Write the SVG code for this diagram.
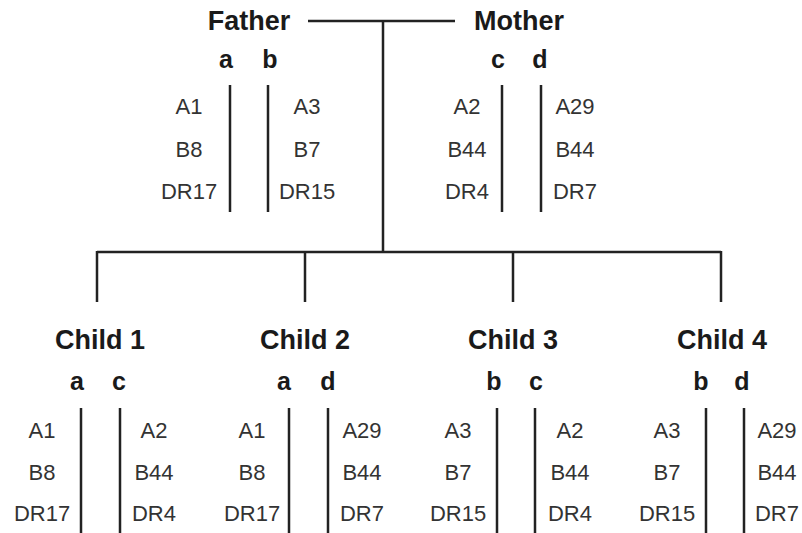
<svg xmlns="http://www.w3.org/2000/svg" width="802" height="533" viewBox="0 0 802 533">
<style>
.t{font-family:"Liberation Sans",Arial,sans-serif;font-weight:bold;font-size:27px;fill:#1a1a1a;text-anchor:middle}
.h{font-family:"Liberation Sans",Arial,sans-serif;font-weight:bold;font-size:25px;fill:#1a1a1a;text-anchor:middle}
.v{font-family:"Liberation Sans",Arial,sans-serif;font-size:22px;fill:#333;text-anchor:middle}
.l{stroke:#222;stroke-width:2.5;fill:none}
</style>
<rect width="802" height="533" fill="#fff"/>
<g id="connectors">
<path class="l" d="M308 21H455M383 21V252M97 252H721M97 251V302M305 251V302M513 251V302M721 251V302"/>
</g>
<g id="father">
<text class="t" x="249" y="30">Father</text>
<text class="h" x="226" y="68">a</text><text class="h" x="270" y="68">b</text>
<path class="l" d="M230 85V212M268 85V212"/>
<text class="v" x="189" y="114">A1</text><text class="v" x="189" y="157">B8</text><text class="v" x="189" y="199">DR17</text>
<text class="v" x="307" y="114">A3</text><text class="v" x="307" y="157">B7</text><text class="v" x="307" y="199">DR15</text>
</g>
<g id="mother">
<text class="t" x="519" y="30">Mother</text>
<text class="h" x="498" y="68">c</text><text class="h" x="540" y="68">d</text>
<path class="l" d="M502 85V212M541 85V212"/>
<text class="v" x="467" y="114">A2</text><text class="v" x="467" y="157">B44</text><text class="v" x="467" y="199">DR4</text>
<text class="v" x="575" y="114">A29</text><text class="v" x="575" y="157">B44</text><text class="v" x="575" y="199">DR7</text>
</g>
<g id="child1">
<text class="t" x="100" y="349">Child 1</text>
<text class="h" x="77" y="390">a</text><text class="h" x="119" y="390">c</text>
<path class="l" d="M81 408V533M120 408V533"/>
<text class="v" x="42" y="438">A1</text><text class="v" x="42" y="480">B8</text><text class="v" x="42" y="521">DR17</text>
<text class="v" x="154" y="438">A2</text><text class="v" x="154" y="480">B44</text><text class="v" x="154" y="521">DR4</text>
</g>
<g id="child2">
<text class="t" x="305" y="349">Child 2</text>
<text class="h" x="284" y="390">a</text><text class="h" x="328" y="390">d</text>
<path class="l" d="M289 408V533M328 408V533"/>
<text class="v" x="252" y="438">A1</text><text class="v" x="252" y="480">B8</text><text class="v" x="252" y="521">DR17</text>
<text class="v" x="362" y="438">A29</text><text class="v" x="362" y="480">B44</text><text class="v" x="362" y="521">DR7</text>
</g>
<g id="child3">
<text class="t" x="513" y="349">Child 3</text>
<text class="h" x="494" y="390">b</text><text class="h" x="536" y="390">c</text>
<path class="l" d="M497 408V533M535 408V533"/>
<text class="v" x="458" y="438">A3</text><text class="v" x="458" y="480">B7</text><text class="v" x="458" y="521">DR15</text>
<text class="v" x="570" y="438">A2</text><text class="v" x="570" y="480">B44</text><text class="v" x="570" y="521">DR4</text>
</g>
<g id="child4">
<text class="t" x="722" y="349">Child 4</text>
<text class="h" x="701" y="390">b</text><text class="h" x="742" y="390">d</text>
<path class="l" d="M706 408V533M744 408V533"/>
<text class="v" x="667" y="438">A3</text><text class="v" x="667" y="480">B7</text><text class="v" x="667" y="521">DR15</text>
<text class="v" x="777" y="438">A29</text><text class="v" x="777" y="480">B44</text><text class="v" x="777" y="521">DR7</text>
</g>
</svg>
